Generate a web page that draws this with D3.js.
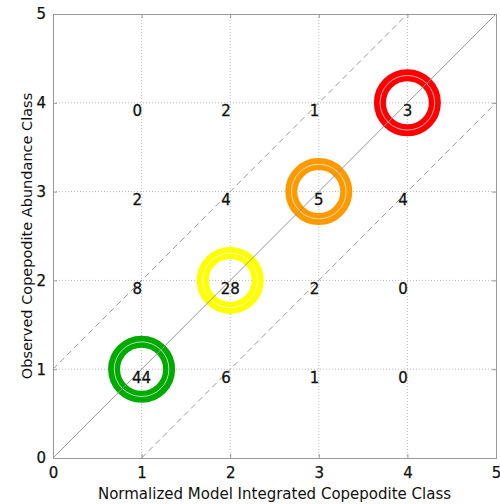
<!DOCTYPE html>
<html>
<head>
<meta charset="utf-8">
<script src="https://cdn.jsdelivr.net/npm/d3@7"></script>
<style>
  body { margin: 0; background: #fff; }
  svg text { font-family: "DejaVu Sans", Arial, sans-serif; fill: #111; }
  .axis path, .axis line { stroke: #999; }
  .axis text { stroke: #111; stroke-width: 0.25; }
</style>
</head>
<body>
<div id="chart"></div>
<script>
// model class (x) and observed class (y)
var modelClass = [1, 2, 3, 4];
var obsClass = [1, 2, 3, 4];
// counts, one row per observed class (1..4), columns = model class 1..4
var countsObs1 = [44, 6, 1, 0];
var countsObs2 = [8, 28, 2, 0];
var countsObs3 = [2, 4, 5, 4];
var countsObs4 = [0, 2, 1, 3];
var ringColors = ["#00aa00", "#ffff00", "#ff9900", "#ff0000"];
var tickValues = [0, 1, 2, 3, 4, 5];

var rows = [countsObs1, countsObs2, countsObs3, countsObs4];
var cells = [];
obsClass.forEach(function (o, i) {
  modelClass.forEach(function (m, j) {
    cells.push({ x: m, y: o, n: rows[i][j] });
  });
});

var margin = { top: 14, right: 4, bottom: 46, left: 53 },
  width = 500 - margin.left - margin.right,
  height = 504 - margin.top - margin.bottom;

var x = d3.scaleLinear().domain([0, 5]).range([0, width]);
var y = d3.scaleLinear().domain([0, 5]).range([height, 0]);

var svg = d3.select("#chart").append("svg")
  .attr("width", 500)
  .attr("height", 504)
  .append("g")
  .attr("transform", "translate(" + margin.left + "," + margin.top + ")");

// dotted grid
svg.append("g").selectAll("line.gx")
  .data([1, 2, 3, 4]).enter().append("line")
  .attr("x1", function (d) { return x(d); })
  .attr("x2", function (d) { return x(d); })
  .attr("y1", 0).attr("y2", height)
  .style("stroke", "#bbb").style("stroke-dasharray", "1,2");
svg.append("g").selectAll("line.gy")
  .data([1, 2, 3, 4]).enter().append("line")
  .attr("y1", function (d) { return y(d); })
  .attr("y2", function (d) { return y(d); })
  .attr("x1", 0).attr("x2", width)
  .style("stroke", "#bbb").style("stroke-dasharray", "1,2");

// rings on the diagonal
var diag = cells.filter(function (d) { return d.x == d.y; });
svg.selectAll("circle.ring")
  .data(diag).enter().append("circle")
  .attr("cx", function (d) { return x(d.x); })
  .attr("cy", function (d) { return y(d.y); })
  .attr("r", 27.5)
  .style("fill", "none")
  .style("stroke-width", 12)
  .style("stroke", function (d, i) { return ringColors[i]; });
svg.selectAll("circle.inner")
  .data(diag).enter().append("circle")
  .attr("cx", function (d) { return x(d.x); })
  .attr("cy", function (d) { return y(d.y); })
  .attr("r", 27.3)
  .style("fill", "none")
  .style("stroke-width", 0.8)
  .style("stroke", "#fff")
  .style("opacity", 0.85);

// 1:1 line and +/-1 dashed lines
var line = d3.line().x(function (d) { return x(d[0]); }).y(function (d) { return y(d[1]); });
svg.append("path").attr("d", line([[0, 0], [5, 5]]))
  .style("stroke", "#999").style("fill", "none");
svg.append("path").attr("d", line([[0, 1], [4, 5]]))
  .style("stroke", "#999").style("fill", "none").style("stroke-dasharray", "6,4");
svg.append("path").attr("d", line([[1, 0], [5, 4]]))
  .style("stroke", "#999").style("fill", "none").style("stroke-dasharray", "6,4");

// counts
svg.selectAll("text.count")
  .data(cells).enter().append("text")
  .attr("x", function (d) { return x(d.x) + (d.x == d.y ? 0 : 0.5); })
  .attr("y", function (d) { return y(d.y) + 13.5; })
  .style("text-anchor", function (d) { return d.x == d.y ? "middle" : "end"; })
  .style("font-size", "15px")
  .style("stroke", "#111").style("stroke-width", 0.3)
  .text(function (d) { return d.n; });

// axes
svg.append("g").attr("class", "axis")
  .attr("transform", "translate(0," + height + ")")
  .call(d3.axisBottom(x).tickValues(tickValues).tickSize(-4).tickPadding(9).tickFormat(d3.format("d")))
  .selectAll("text").style("font-size", "15px");
svg.append("g").attr("class", "axis")
  .call(d3.axisLeft(y).tickValues(tickValues).tickSize(-4).tickPadding(7).tickFormat(d3.format("d")))
  .selectAll("text").style("font-size", "15px");
svg.append("g").attr("class", "axis")
  .call(d3.axisTop(x).tickValues(tickValues).tickSize(-4).tickFormat(""));
svg.append("g").attr("class", "axis")
  .attr("transform", "translate(" + width + ",0)")
  .call(d3.axisRight(y).tickValues(tickValues).tickSize(-4).tickFormat(""));

svg.append("text")
  .attr("x", width / 2)
  .attr("y", height + 41)
  .style("text-anchor", "middle")
  .style("font-size", "15px")
  .text("Normalized Model Integrated Copepodite Class");

svg.append("text")
  .attr("transform", "rotate(-90)")
  .attr("x", -height / 2)
  .attr("y", -21)
  .style("text-anchor", "middle")
  .style("font-size", "14.5px")
  .text("Observed Copepodite Abundance Class");
</script>
</body>
</html>
